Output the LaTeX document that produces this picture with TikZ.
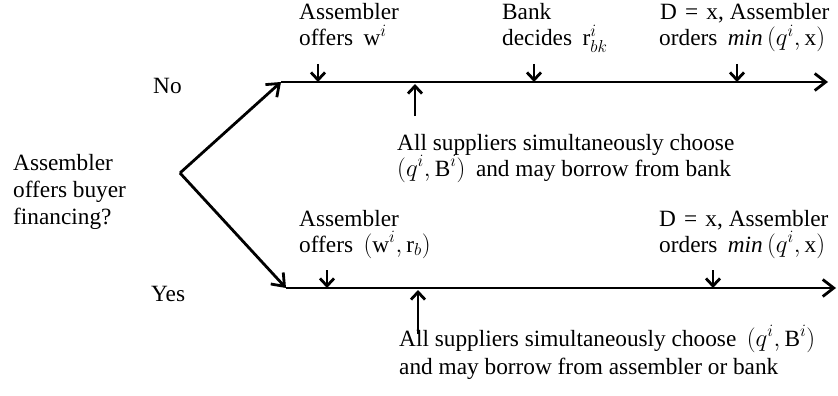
\documentclass[tikz,border=0pt]{standalone}
\usepackage{fontspec}
\setmainfont{Liberation Serif}
\usetikzlibrary{arrows.meta}
\begin{document}
\begin{tikzpicture}[x=1pt,y=-1pt,
  lbl/.style={anchor=base west, inner sep=0pt, font=\fontsize{23.3}{26}\selectfont},
  mainline/.style={line width=2.8pt, -{Straight Barb[length=11pt,width=17pt]}},
  tick/.style={line width=2.8pt, -{Straight Barb[length=7.5pt,width=14pt]}}]
\useasboundingbox (0,0) rectangle (838,396);
% coordinates
\coordinate (br) at (180,173);
\coordinate (u0) at (281,82);
\coordinate (u1) at (828,82);
\coordinate (l0) at (286,288);
\coordinate (l1) at (836,288);
% branches and timelines
\draw[mainline] (br) -- (u0);
\draw[mainline] (br) -- (l0);
\draw[mainline] (u0) -- (u1);
\draw[mainline] (l0) -- (l1);
% upper events
\coordinate (ua) at (318,82);  \coordinate (uat) at (318,64);
\coordinate (ub) at (534,82);  \coordinate (ubt) at (534,64);
\coordinate (uc) at (737,82);  \coordinate (uct) at (737,64);
\coordinate (us) at (415,84);  \coordinate (usb) at (415,116);
\draw[tick] (uat) -- (ua);
\draw[tick] (ubt) -- (ub);
\draw[tick] (uct) -- (uc);
\draw[tick] (usb) -- (us);
% lower events
\coordinate (la) at (327,288);  \coordinate (lat) at (327,270);
\coordinate (lc) at (713,288);  \coordinate (lct) at (713,270);
\coordinate (ls) at (418,290);  \coordinate (lsb) at (418,334);
\draw[tick] (lat) -- (la);
\draw[tick] (lct) -- (lc);
\draw[tick] (lsb) -- (ls);
% texts
\node[lbl] (q1) at (13,170) {Assembler};
\node[lbl] (q2) at (13,197) {offers buyer};
\node[lbl] (q3) at (13,224) {financing?};
\node[lbl] (no) at (153,93) {No};
\node[lbl] (yes) at (151,301) {Yes};
\node[lbl] (a1) at (299,20) {Assembler};
\node[lbl] (a2) at (299,46) {offers\hspace{0.45em}w$^{i}$};
\node[lbl] (b1) at (502,20) {Bank};
\node[lbl] (b2) at (502,46) {decides\hspace{0.45em}r$^{i}_{bk}$};
\node[lbl] (c1) at (660,20) {D\hspace{0.35em}=\hspace{0.35em}x, Assembler};
\node[lbl] (c2) at (659,46) {orders\hspace{0.45em}$\mathit{min}\,(q^{i},\mathrm{x})$};
\node[lbl] (s1) at (397,150) {All suppliers simultaneously choose};
\node[lbl] (s2) at (397,176) {$(q^{i},\mathrm{B}^{i})$\hspace{0.45em}and may borrow from bank};
\node[lbl] (d1) at (299,226) {Assembler};
\node[lbl] (d2) at (299,252) {offers\hspace{0.45em}$(\mathrm{w}^{i},\mathrm{r}_{b})$};
\node[lbl] (e1) at (659,226) {D\hspace{0.35em}=\hspace{0.35em}x, Assembler};
\node[lbl] (e2) at (659,252) {orders\hspace{0.45em}$\mathit{min}\,(q^{i},\mathrm{x})$};
\node[lbl] (t1) at (399,346) {All suppliers simultaneously choose\hspace{0.45em}$(q^{i},\mathrm{B}^{i})$};
\node[lbl] (t2) at (399,374) {and may borrow from assembler or bank};
\end{tikzpicture}
\end{document}
